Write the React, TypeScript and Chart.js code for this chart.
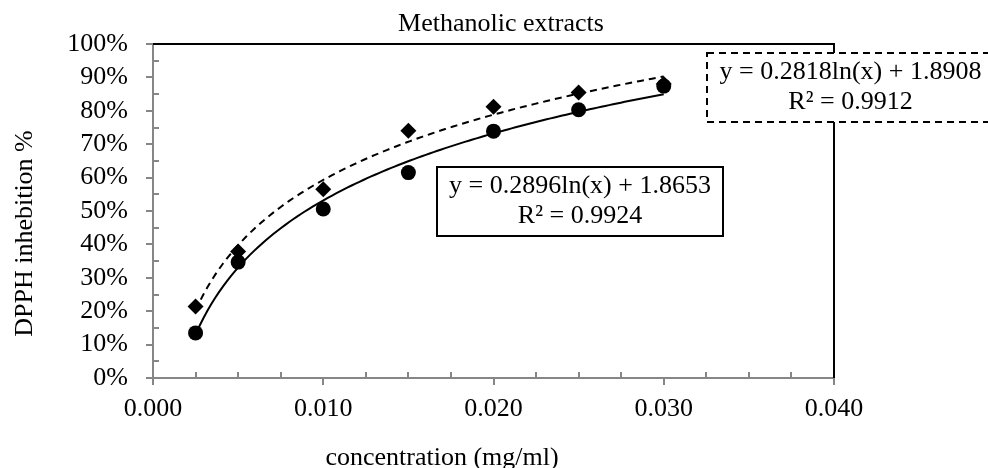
import React, { useEffect, useRef } from 'react';
import { Chart, registerables } from 'chart.js';

Chart.register(...registerables);

// ---- data ----
const concentrations = [0.0025, 0.005, 0.01, 0.015, 0.02, 0.025, 0.03];
const circleSeries = [0.135, 0.347, 0.506, 0.615, 0.739, 0.803, 0.874];
const diamondSeries = [0.214, 0.379, 0.565, 0.74, 0.812, 0.855, 0.88];
const trendSlopes = [0.2896, 0.2818];
const trendIntercepts = [1.8653, 1.8908];
const trendR2 = [0.9924, 0.9912];
const xTickValues = [0, 0.01, 0.02, 0.03, 0.04];
const yTickValues = [0, 0.1, 0.2, 0.3, 0.4, 0.5, 0.6, 0.7, 0.8, 0.9, 1.0];
const chartTitle = 'Methanolic extracts';
const xAxisTitle = 'concentration (mg/ml)';
const yAxisTitle = 'DPPH inhebition %';

const FONT = "'Liberation Serif', 'Times New Roman', serif";
const FS = 26;
const AXIS = '#868686';

// trendline curves from the displayed equations y = a ln(x) + b
function trendCurve(k: number) {
  const pts: { x: number; y: number }[] = [];
  const x0 = concentrations[0];
  const x1 = concentrations[concentrations.length - 1];
  const n = 120;
  for (let i = 0; i <= n; i++) {
    const xv = x0 + ((x1 - x0) * i) / n;
    pts.push({ x: xv, y: trendSlopes[k] * Math.log(xv) + trendIntercepts[k] });
  }
  return pts;
}

const eqLabel = (k: number) => [
  `y = ${trendSlopes[k].toFixed(4)}ln(x) + ${trendIntercepts[k].toFixed(4)}`,
  `R\u00B2 = ${trendR2[k].toFixed(4)}`,
];

const overlay = {
  id: 'overlay',
  beforeDatasetsDraw(chart: any) {
    const { ctx, chartArea: a, scales } = chart;
    const x = scales.x;
    const y = scales.y;
    ctx.save();
    ctx.strokeStyle = AXIS;
    ctx.lineWidth = 2;
    ctx.beginPath();
    for (let i = 1; i < 16; i++) {
      if (i % 4 === 0) continue;
      const px = Math.round(x.getPixelForValue(i * 0.0025));
      ctx.moveTo(px, a.bottom);
      ctx.lineTo(px, a.bottom - 6);
    }
    for (let i = 1; i < 20; i += 2) {
      const py = Math.round(y.getPixelForValue(i * 0.05));
      ctx.moveTo(a.left, py);
      ctx.lineTo(a.left + 6, py);
    }
    ctx.stroke();
    ctx.strokeStyle = '#000';
    ctx.lineWidth = 2;
    ctx.beginPath();
    ctx.moveTo(a.left, a.top);
    ctx.lineTo(a.right, a.top);
    ctx.lineTo(a.right, a.bottom);
    ctx.stroke();
    ctx.restore();
  },
  afterDraw(chart: any) {
    const { ctx } = chart;
    ctx.save();
    ctx.fillStyle = '#000';
    ctx.font = `${FS}px ${FONT}`;
    ctx.textAlign = 'center';
    ctx.textBaseline = 'middle';
    ctx.fillText(chartTitle, 501, 24);
    ctx.textBaseline = 'alphabetic';
    ctx.fillText(xAxisTitle, 442, 465);
    ctx.save();
    ctx.translate(32, 233.5);
    ctx.rotate(-Math.PI / 2);
    ctx.textBaseline = 'alphabetic';
    ctx.fillText(yAxisTitle, 0, 0);
    ctx.restore();

    const boxes = [
      { k: 0, l: 437, t: 167, r: 723, b: 236, dash: [] as number[] },
      { k: 1, l: 707, t: 53, r: 994, b: 122, dash: [7, 5] },
    ];
    boxes.forEach((bx) => {
      ctx.fillStyle = '#fff';
      ctx.fillRect(bx.l, bx.t, bx.r - bx.l, bx.b - bx.t);
      ctx.strokeStyle = '#000';
      ctx.lineWidth = 2;
      ctx.setLineDash(bx.dash);
      ctx.strokeRect(bx.l, bx.t, bx.r - bx.l, bx.b - bx.t);
      ctx.setLineDash([]);
      ctx.fillStyle = '#000';
      ctx.textBaseline = 'middle';
      const lines = eqLabel(bx.k);
      const cx = bx.k === 0 ? 580 : 850.5;
      const mid = (bx.t + bx.b) / 2;
      ctx.fillText(lines[0], cx, mid - 15);
      ctx.fillText(lines[1], cx, mid + 15);
    });
    ctx.restore();
  },
};

export default function App() {
  const ref = useRef<HTMLCanvasElement | null>(null);
  useEffect(() => {
    document.body.style.margin = '0';
    if (!ref.current) return;
    const chart = new Chart(ref.current, {
      type: 'scatter',
      data: {
        datasets: [
          {
            label: 'circles',
            data: concentrations.map((c, i) => ({ x: c, y: circleSeries[i] })),
            pointStyle: 'circle',
            pointRadius: 7.5,
            backgroundColor: '#000',
            borderColor: '#000',
            borderWidth: 0,
            showLine: false,
          },
          {
            label: 'diamonds',
            data: concentrations.map((c, i) => ({ x: c, y: diamondSeries[i] })),
            pointStyle: 'rectRot',
            pointRadius: 8,
            backgroundColor: '#000',
            borderColor: '#000',
            borderWidth: 0,
            showLine: false,
          },
          {
            label: 'trend solid',
            data: trendCurve(0),
            showLine: true,
            pointRadius: 0,
            borderColor: '#000',
            borderWidth: 2,
            fill: false,
          },
          {
            label: 'trend dashed',
            data: trendCurve(1),
            showLine: true,
            pointRadius: 0,
            borderColor: '#000',
            borderWidth: 2,
            borderDash: [7, 5],
            fill: false,
          },
        ],
      },
      options: {
        animation: false,
        responsive: true,
        maintainAspectRatio: false,
        layout: { padding: { left: 0, top: 44, right: 154, bottom: 0 } },
        plugins: {
          legend: { display: false },
          title: { display: false },
          tooltip: { enabled: false },
        },
        scales: {
          x: {
            type: 'linear',
            min: 0,
            max: 0.04,
            afterFit: (s: any) => {
              s.height = 90;
            },
            afterBuildTicks: (s: any) => {
              s.ticks = xTickValues.map((v) => ({ value: v }));
            },
            ticks: {
              padding: 9,
              maxRotation: 0,
              autoSkip: false,
              color: '#000',
              font: { family: FONT, size: FS },
              callback: (v: any) => Number(v).toFixed(3),
            },
            grid: {
              drawOnChartArea: false,
              drawTicks: true,
              tickLength: 7,
              color: AXIS,
              lineWidth: 2,
            },
            border: { display: true, color: AXIS, width: 2 },
          },
          y: {
            type: 'linear',
            min: 0,
            max: 1,
            afterFit: (s: any) => {
              s.width = 153;
            },
            afterBuildTicks: (s: any) => {
              s.ticks = yTickValues.map((v) => ({ value: v }));
            },
            ticks: {
              padding: 18,
              autoSkip: false,
              color: '#000',
              font: { family: FONT, size: FS },
              callback: (v: any) => `${Math.round(Number(v) * 100)}%`,
            },
            grid: {
              drawOnChartArea: false,
              drawTicks: true,
              tickLength: 7,
              color: AXIS,
              lineWidth: 2,
            },
            border: { display: true, color: AXIS, width: 2 },
          },
        },
      },
      plugins: [overlay],
    });
    return () => chart.destroy();
  }, []);
  return (
    <div style={{ width: 988, height: 468, position: 'relative' }}>
      <canvas ref={ref} />
    </div>
  );
}
